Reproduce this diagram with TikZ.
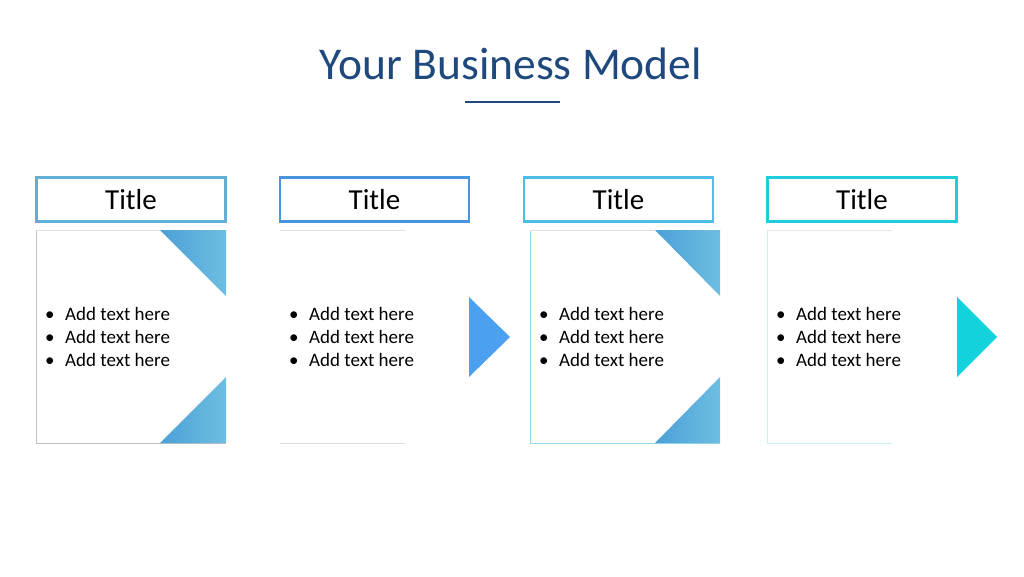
\documentclass[tikz,border=0pt]{standalone}
\usepackage{fontspec}
\setmainfont{Carlito}
\definecolor{navy}{RGB}{31,73,125}
\definecolor{cA}{RGB}{95,175,215}
\definecolor{cB}{RGB}{72,148,222}
\definecolor{cC}{RGB}{78,190,232}
\definecolor{cD}{RGB}{30,205,220}
\definecolor{triA}{RGB}{75,160,215}
\definecolor{triB}{RGB}{110,190,225}
\definecolor{arB}{RGB}{75,160,240}
\definecolor{arD}{RGB}{20,210,220}
\tikzset{
 titlebox/.style={draw=#1,line width=2.5pt,minimum width=189pt,minimum height=44pt,inner sep=0pt,font=\fontsize{29}{32}\selectfont},
 items/.style={align=left,anchor=west,font=\fontsize{19}{23}\selectfont,inner sep=0pt},
}
\newcommand{\bl}{\makebox[20pt][l]{\textbullet}}
\begin{document}
\begin{tikzpicture}[x=1pt,y=-1pt]
\useasboundingbox (0,0) rectangle (1024,576);
\node[text=navy,font=\fontsize{45.5}{50}\selectfont] (t) at (511,64) {Your Business Model};
\draw[navy,line width=2.5pt] (465,102) -- (560,102);
% titles
\node[titlebox=cA] (h1) at (131,199.5) {Title};
\node[titlebox=cB] (h2) at (374.5,199.5) {Title};
\node[titlebox=cC] (h3) at (618.5,199.5) {Title};
\node[titlebox=cD] (h4) at (862,199.5) {Title};
% panel 1
\draw[gray!50,line width=0.8pt] (36,230) -- (36,443) -- (226,443);
\draw[gray!25,line width=0.6pt] (36,230) -- (160,230);
\shade[left color=triA,right color=triB] (160,230) -- (226,230) -- (226,296) -- cycle;
\shade[left color=triA,right color=triB] (160,443) -- (226,443) -- (226,377) -- cycle;
% panel 2
\draw[gray!25,line width=0.8pt] (280,230) -- (405,230) (280,443) -- (405,443);
\fill[arB] (469,297) -- (510,337) -- (469,377) -- cycle;
% panel 3
\draw[cC!60,line width=0.8pt] (530,230) -- (530,443) -- (720,443);
\draw[gray!25,line width=0.6pt] (530,230) -- (655,230);
\shade[left color=triA,right color=triB] (655,230) -- (720,230) -- (720,296) -- cycle;
\shade[left color=triA,right color=triB] (655,443) -- (720,443) -- (720,377) -- cycle;
% panel 4
\draw[cD!25,line width=0.8pt] (767,230) -- (767,443) -- (892,443);
\draw[gray!20,line width=0.6pt] (767,230) -- (892,230);
\fill[arD] (957,297) -- (997,337) -- (957,377) -- cycle;
% texts
\node[items] (l1) at (45,337) {\bl Add text here\\\bl Add text here\\\bl Add text here};
\node[items] (l2) at (289,337) {\bl Add text here\\\bl Add text here\\\bl Add text here};
\node[items] (l3) at (539,337) {\bl Add text here\\\bl Add text here\\\bl Add text here};
\node[items] (l4) at (776,337) {\bl Add text here\\\bl Add text here\\\bl Add text here};
\end{tikzpicture}
\end{document}
